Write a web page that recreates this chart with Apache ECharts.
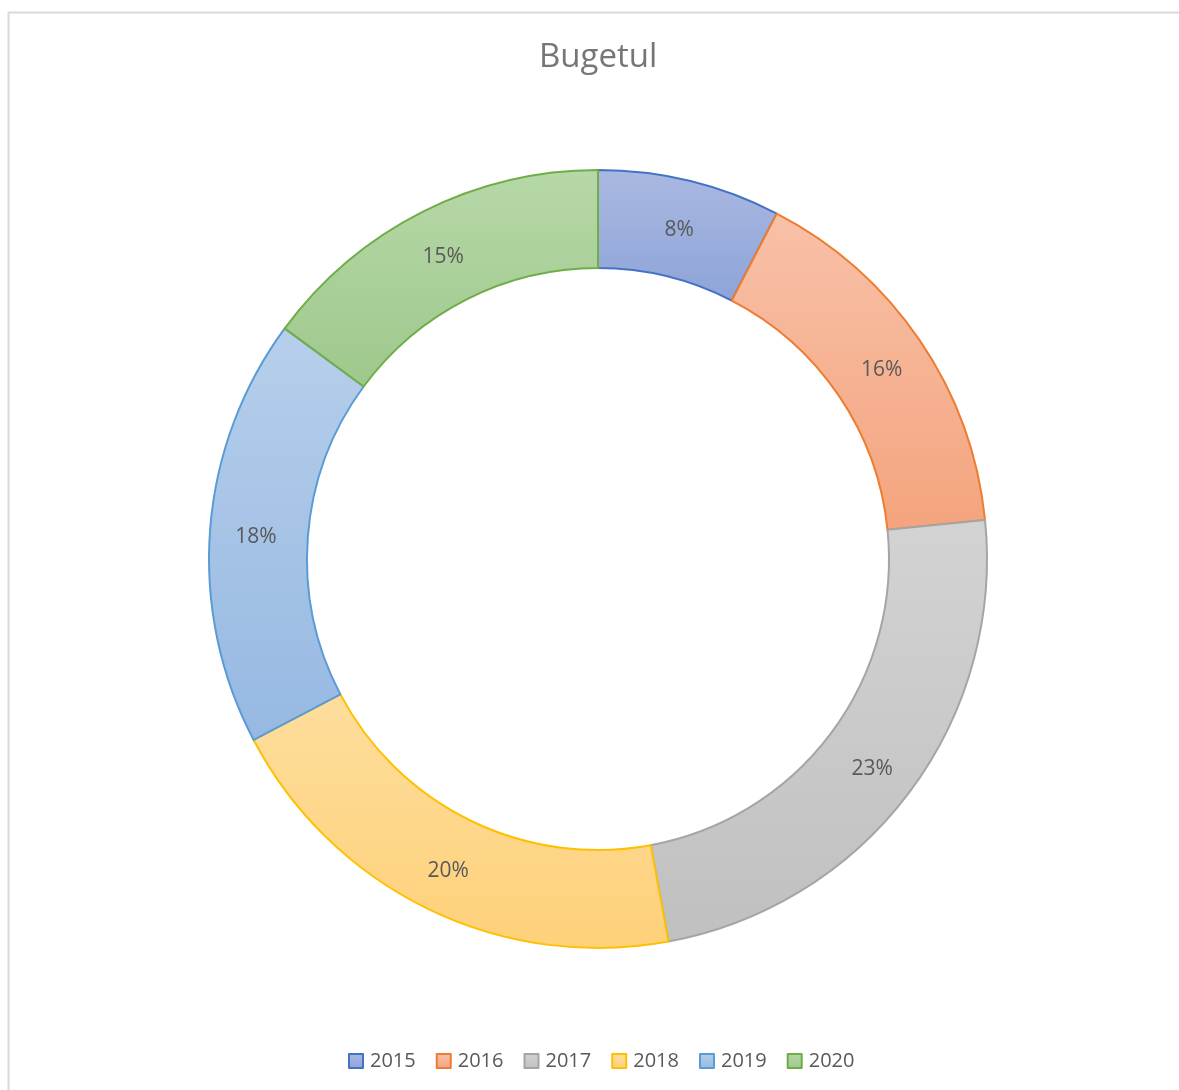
<!DOCTYPE html>
<html>
<head>
<meta charset="utf-8">
<script src="https://cdn.jsdelivr.net/npm/echarts@6/dist/echarts.min.js"></script>
<style>
html,body{margin:0;padding:0;background:#fff;}
#chart{width:1179px;height:1090px;}
</style>
</head>
<body>
<div id="chart"></div>
<script>
const categories = ['2015', '2016', '2017', '2018', '2019', '2020'];
const values = [7.6, 15.8, 23.7, 20.2, 17.8, 14.9];
const labelsShown = ['8%', '16%', '23%', '20%', '18%', '15%'];
const lineColors = ['#4472C4', '#ED7D31', '#A5A5A5', '#FFC000', '#5B9BD5', '#70AD47'];
const fillTop = ['#a9b8e0', '#f8c1a8', '#d3d3d3', '#fedd9c', '#b6cfeb', '#b7d8a8'];
const fillBottom = ['#8ea4d8', '#f4a47e', '#c0c0c0', '#fed17a', '#96b8e2', '#9ec88c'];

const chart = echarts.init(document.getElementById('chart'));
const data = categories.map((c, i) => ({
  name: c,
  value: values[i],
  itemStyle: {
    color: new echarts.graphic.LinearGradient(0, 0, 0, 1, [
      {offset: 0, color: fillTop[i]},
      {offset: 1, color: fillBottom[i]}
    ]),
    borderColor: lineColors[i],
    borderWidth: 2
  }
}));

chart.setOption({
  animation: false,
  title: {
    text: 'Bugetul',
    left: 539,
    top: 41,
    padding: 0,
    textStyle: {
      fontFamily: 'Open Sans',
      fontWeight: 'normal',
      fontSize: 33,
      color: '#767676'
    }
  },
  graphic: [{
    type: 'rect',
    shape: {x: 8.5, y: 12.5, width: 1190, height: 1100},
    style: {fill: 'none', stroke: '#d9d9d9', lineWidth: 2},
    silent: true
  }],
  legend: {
    bottom: 19,
    left: 348,
    padding: 0,
    itemWidth: 14,
    itemHeight: 14,
    itemGap: 20,
    icon: 'rect',
    textStyle: {
      fontFamily: 'Open Sans',
      fontSize: 20,
      color: '#595959',
      padding: [0, 0, 0, 2]
    },
    data: categories
  },
  series: [{
    type: 'pie',
    center: [598, 559],
    radius: [291, 389],
    startAngle: 90,
    clockwise: true,
    avoidLabelOverlap: false,
    data: data,
    label: {
      show: true,
      position: 'inside',
      formatter: p => labelsShown[p.dataIndex],
      fontFamily: 'Open Sans',
      fontSize: 21,
      color: '#595959',
      offset: [0, 4]
    },
    labelLine: {show: false},
    emphasis: {disabled: true}
  }]
});
</script>
</body>
</html>
